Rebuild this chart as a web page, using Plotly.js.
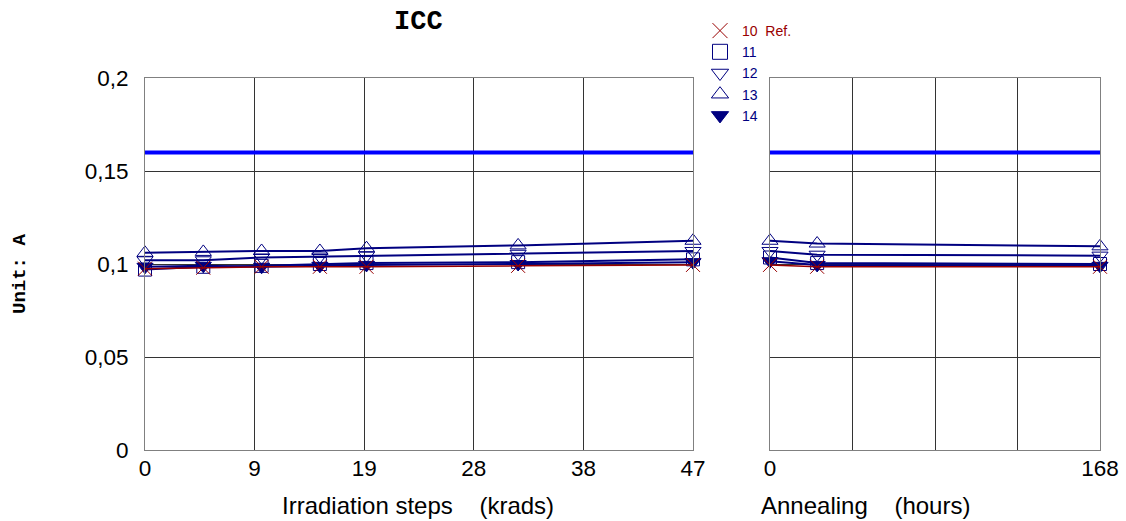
<!DOCTYPE html>
<html>
<head>
<meta charset="utf-8">
<script src="https://cdn.plot.ly/plotly-3.0.1.min.js"></script>
<style>html,body{margin:0;padding:0;background:#fff;}#chart{width:1126px;height:521px;}</style>
</head>
<body>
<div id="chart"></div>
<script>
// ---- data ----
const irradSteps = [0, 5, 10, 15, 19, 32, 47];          // krads
const annealSteps = [0, 24, 168];                         // hours
const seriesNames = ['10&nbsp; Ref.', '11', '12', '13', '14'];
const irr10 = [0.0975, 0.098, 0.0985, 0.0985, 0.0985, 0.099, 0.0995];
const irr11 = [0.097, 0.0985, 0.099, 0.100, 0.1005, 0.101, 0.1025];
const irr12 = [0.102, 0.102, 0.1035, 0.104, 0.1045, 0.1055, 0.107];
const irr13 = [0.106, 0.1065, 0.107, 0.107, 0.1085, 0.110, 0.1125];
const irr14 = [0.0985, 0.099, 0.0985, 0.099, 0.0995, 0.100, 0.101];
const ann10 = [0.0995, 0.0985, 0.0985];
const ann11 = [0.1035, 0.1005, 0.100];
const ann12 = [0.107, 0.105, 0.1045];
const ann13 = [0.1125, 0.111, 0.1095];
const ann14 = [0.1015, 0.0995, 0.099];
const limitValue = 0.16;
const irradTickVals = [0, 9.4, 18.8, 28.2, 37.6, 47];
const irradTickText = ['0', '9', '19', '28', '38', '47'];
const annealTickVals = [0, 42, 84, 126, 168];
const annealTickText = ['0', '', '', '', '168'];
const yTickVals = [0, 0.05, 0.1, 0.15, 0.2];

// ---- styles ----
const RED = '#990000', NAVY = '#000080';
const styles = [
  {color: RED, symbol: 'x-thin-open', size: 14, lw: 1.5},
  {color: NAVY, symbol: 'square-open', size: 13, lw: 2},
  {color: NAVY, symbol: 'triangle-down-open', size: 14, lw: 2},
  {color: NAVY, symbol: 'triangle-up-open', size: 14, lw: 2},
  {color: NAVY, symbol: 'triangle-down', size: 14, lw: 2}
];
const irrSeries = [irr10, irr11, irr12, irr13, irr14];
const annSeries = [ann10, ann11, ann12, ann13, ann14];

const traces = [];
traces.push({x: [irradSteps[0], irradSteps[irradSteps.length-1]], y: [limitValue, limitValue],
  xaxis: 'x', yaxis: 'y', mode: 'lines', line: {color: '#0000FF', width: 4}, showlegend: false, hoverinfo: 'skip'});
traces.push({x: [annealSteps[0], annealSteps[annealSteps.length-1]], y: [limitValue, limitValue],
  xaxis: 'x2', yaxis: 'y2', mode: 'lines', line: {color: '#0000FF', width: 4}, showlegend: false, hoverinfo: 'skip'});
const order = [1, 2, 3, 4, 0];
order.forEach(i => {
  const s = styles[i];
  const mk = {symbol: s.symbol, size: s.size, color: s.color, line: {color: s.color, width: 1}};
  traces.push({x: irradSteps, y: irrSeries[i], xaxis: 'x', yaxis: 'y', mode: 'lines+markers',
    line: {color: s.color, width: s.lw}, marker: mk, showlegend: false, cliponaxis: false, name: seriesNames[i]});
  traces.push({x: annealSteps, y: annSeries[i], xaxis: 'x2', yaxis: 'y2', mode: 'lines+markers',
    line: {color: s.color, width: s.lw}, marker: mk, showlegend: false, cliponaxis: false, name: seriesNames[i]});
});
seriesNames.forEach((n, i) => {
  const s = styles[i];
  traces.push({x: [null], y: [null], xaxis: 'x', yaxis: 'y', mode: 'markers', name: n,
    marker: {symbol: s.symbol, size: 15, color: s.color, line: {color: s.color, width: 1}}, showlegend: true});
});

const W = 1126, H = 521;
const SANS = 'Liberation Sans, Arial';
const MONO = 'Liberation Mono, Courier New, monospace';
const axCommon = {
  showline: true, linecolor: '#808080', linewidth: 1, mirror: true,
  showgrid: true, gridcolor: '#333333', gridwidth: 1, zeroline: false,
  ticks: '', tickfont: {family: SANS, size: 22.5, color: '#000'}
};
const layout = {
  width: W, height: H,
  margin: {l: 0, r: 0, t: 0, b: 0},
  paper_bgcolor: '#fff', plot_bgcolor: '#fff',
  separators: ', ',
  showlegend: true,
  legend: {x: 698 / W, y: 1 - 15 / H, xanchor: 'left', yanchor: 'top',
    font: {family: SANS, size: 14, color: NAVY},
    tracegroupgap: 0, itemwidth: 34, bgcolor: 'rgba(0,0,0,0)'},
  xaxis: Object.assign({}, axCommon, {domain: [145 / W, 693 / W], range: [0, 47],
    tickmode: 'array', tickvals: irradTickVals, ticktext: irradTickText, ticklabelstandoff: -2}),
  yaxis: Object.assign({}, axCommon, {domain: [(H - 450) / H, (H - 78) / H], range: [0, 0.2],
    tickmode: 'array', tickvals: yTickVals, ticklabelstandoff: 11}),
  xaxis2: Object.assign({}, axCommon, {domain: [770 / W, 1100 / W], range: [0, 168], anchor: 'y2',
    tickmode: 'array', tickvals: annealTickVals, ticktext: annealTickText, ticklabelstandoff: -2}),
  yaxis2: Object.assign({}, axCommon, {domain: [(H - 450) / H, (H - 78) / H], range: [0, 0.2], anchor: 'x2',
    tickmode: 'array', tickvals: yTickVals, showticklabels: false}),
  annotations: [
    {text: '<b>ICC</b>', xref: 'paper', yref: 'paper', x: 418 / W, y: 1 - 22 / H, xanchor: 'center', yanchor: 'middle',
      showarrow: false, font: {family: MONO, size: 27, color: '#000'}},
    {text: '<b>Unit: A</b>', xref: 'paper', yref: 'paper', x: 20 / W, y: 1 - 274 / H, xanchor: 'center', yanchor: 'middle',
      textangle: -90, showarrow: false, font: {family: MONO, size: 19, color: '#000'}},
    {text: 'Irradiation steps&nbsp;&nbsp;&nbsp; (krads)', xref: 'paper', yref: 'paper', x: 418 / W, y: 1 - 505 / H, xanchor: 'center', yanchor: 'middle',
      showarrow: false, font: {family: SANS, size: 24, color: '#000'}},
    {text: 'Annealing&nbsp;&nbsp;&nbsp; (hours)', xref: 'paper', yref: 'paper', x: 759 / W, y: 1 - 505 / H, xanchor: 'left', yanchor: 'middle',
      showarrow: false, font: {family: SANS, size: 24, color: '#000'}}
  ]
};
Plotly.newPlot('chart', traces, layout, {displayModeBar: false, staticPlot: true}).then(() => {
  const items = document.querySelectorAll('.legend .traces .legendtext');
  items.forEach(t => { if (t.textContent.indexOf('Ref.') >= 0) t.style.fill = RED; });
});
</script>
</body>
</html>
